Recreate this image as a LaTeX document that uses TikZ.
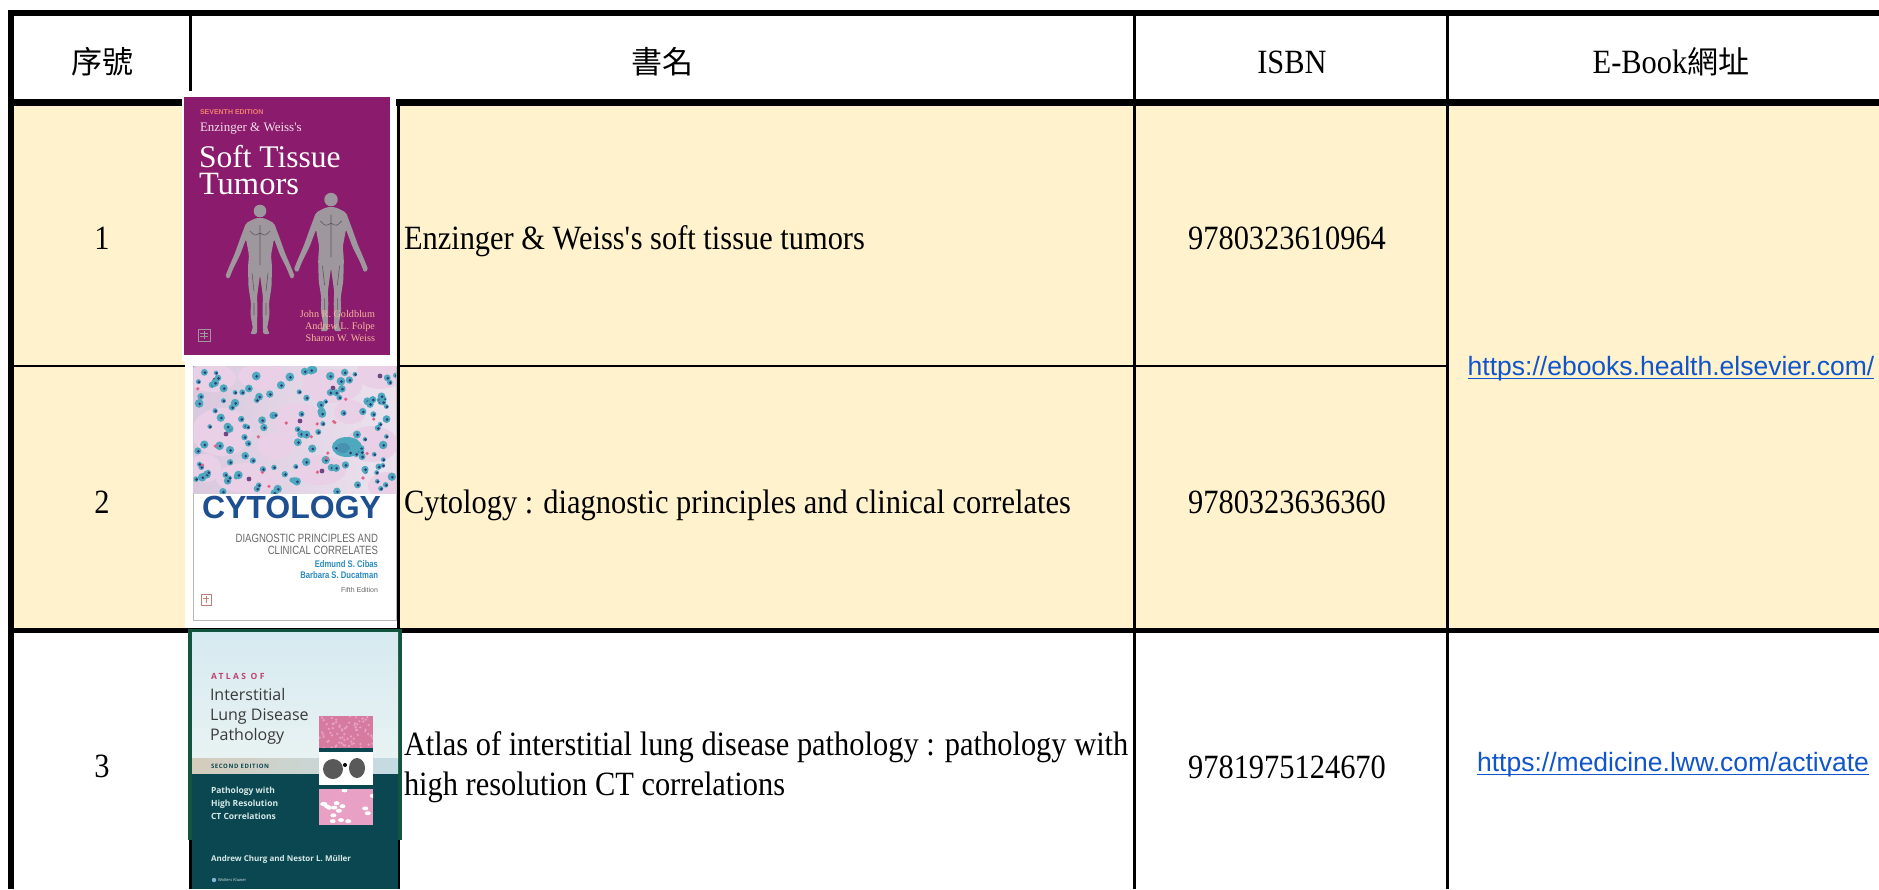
\documentclass[tikz,border=0pt]{standalone}
\usepackage{fontspec}
\setmainfont{Liberation Serif}[FakeStretch=0.895]
\newfontfamily\cjk{Noto Sans CJK TC}
\newfontfamily\coverserif{Liberation Serif}
\newfontfamily\coversans{Liberation Sans}
\newfontfamily\narrowsans{Liberation Sans}[FakeStretch=0.8]
\newfontfamily\opensans{Open Sans}
\newfontfamily\urlsans{Liberation Sans}
\newcommand\mytbfont{\fontsize{34}{40}\selectfont}
\newcommand\mycjkfont{\fontsize{31}{36}\selectfont\cjk}
\definecolor{rowyellow}{RGB}{255,242,204}
\definecolor{linkblue}{RGB}{17,85,204}
\definecolor{stpurple}{RGB}{139,27,108}
\definecolor{salmon}{RGB}{240,128,110}
\definecolor{peach}{RGB}{244,180,156}
\definecolor{pinkwhite}{RGB}{245,222,234}
\definecolor{figgray}{RGB}{158,152,158}
\definecolor{figdark}{RGB}{95,88,95}
\definecolor{cytoblue}{RGB}{29,79,145}
\definecolor{cytoteal}{RGB}{43,139,189}
\definecolor{cytogray}{RGB}{105,105,105}
\definecolor{cellbg}{RGB}{218,200,222}
\definecolor{cellbg2}{RGB}{236,226,238}
\definecolor{palecell}{RGB}{234,208,230}
\definecolor{cellteal}{RGB}{78,168,190}
\definecolor{nucleus}{RGB}{45,60,120}
\definecolor{purplenuc}{RGB}{110,70,130}
\definecolor{cellpink}{RGB}{225,100,135}
\definecolor{atlaspink}{RGB}{194,65,110}
\definecolor{atlasteal}{RGB}{11,71,80}
\definecolor{atlasgreen}{RGB}{18,84,62}
\definecolor{atlastop}{RGB}{214,234,241}
\definecolor{atlaslight}{RGB}{232,242,242}
\definecolor{stripbeige}{RGB}{212,204,188}
\definecolor{stripblue}{RGB}{196,220,228}
\definecolor{atlastext}{RGB}{58,58,58}
\definecolor{atlaswhite}{RGB}{214,232,232}
\definecolor{tissuepink}{RGB}{214,122,160}
\definecolor{tissuelight}{RGB}{232,160,196}
\tikzset{
  anatfig/.pic={
    \fill[figgray, rounded corners=2] (4,15) -- (14,20) -- (20,36) -- (25,50) -- (31,64) -- (35,74) -- (31,76) -- (27,66) -- (20,52) -- (14,36) -- (11,52) -- (12,64) -- (11.5,84) -- (9,100) -- (9.5,112) -- (7,126) -- (10,131) -- (3,131) -- (3,124) -- (2.5,104) -- (3,94) -- (0,72) -- (-3,94) -- (-2.5,104) -- (-3,124) -- (-3,131) -- (-10,131) -- (-7,126) -- (-9.5,112) -- (-9,100) -- (-11.5,84) -- (-12,64) -- (-11,52) -- (-14,36) -- (-20,52) -- (-27,66) -- (-31,76) -- (-35,74) -- (-31,64) -- (-25,50) -- (-20,36) -- (-14,20) -- (-4,15) -- cycle;
    \fill[figgray] (0,8) circle (6.3);
    \draw[figdark, line width=0.6] (0,22) -- (0,62) (-10,28) .. controls (-5,33) .. (0,30) .. controls (5,33) .. (10,28) (-6,100) -- (-6,112) (6,100) -- (6,112) (-8,70) -- (-6,88) (8,70) -- (6,88);
  }
}
\begin{document}
\begin{tikzpicture}[x=1pt,y=-1pt,
  txt/.style={inner sep=0pt,outer sep=0pt,font=\mytbfont},
  cjktxt/.style={inner sep=0pt,outer sep=0pt,font=\mycjkfont},
  urltxt/.style={inner sep=0pt,outer sep=0pt,font=\urlsans\fontsize{26.5}{30}\selectfont,text=linkblue},
  ctxt/.style={inner sep=0pt,outer sep=0pt},
  grid/.style={black}]
\useasboundingbox (0,0) rectangle (1879,889);
\clip (0,0) rectangle (1879,889);
\fill[white] (0,0) rectangle (1879,889);
\fill[rowyellow] (14,106) rectangle (1879,628);
% grid lines
\draw[grid, line width=6] (8,13) -- (1879,13);
\draw[grid, line width=6] (11,10) -- (11,889);
\draw[grid, line width=7] (8,102.5) -- (1879,102.5);
\draw[grid, line width=3.5] (190.5,10) -- (190.5,889);
\draw[grid, line width=3] (398,102) -- (398,889);
\draw[grid, line width=3] (1134.5,10) -- (1134.5,889);
\draw[grid, line width=3.5] (1447.5,10) -- (1447.5,889);
\draw[grid, line width=2.5] (11,366) -- (1447,366);
\draw[grid, line width=5] (8,630.5) -- (1879,630.5);
% header
\node[cjktxt, anchor=base] (hno) at (102,73) {序號};
\node[cjktxt, anchor=base] (htitle) at (662,73) {書名};
\node[txt, anchor=base] (hisbn) at (1292,73) {ISBN};
\node[txt, anchor=base] (hurl) at (1671,73) {E-Book{\mycjkfont 網址}};
% row numbers
\node[txt, anchor=base] (n1) at (102,249) {1};
\node[txt, anchor=base] (n2) at (102,513) {2};
\node[txt, anchor=base] (n3) at (102,777) {3};
% titles
\node[txt, anchor=base west] (t1) at (404,249) {Enzinger \& Weiss\textquotesingle s soft tissue tumors};
\node[txt, anchor=base west] (t2) at (404,513) {Cytology : diagnostic principles and clinical correlates};
\node[txt, anchor=base west] (t3a) at (404,755) {Atlas of interstitial lung disease pathology : pathology with};
\node[txt, anchor=base west] (t3b) at (404,795) {high resolution CT correlations};
% ISBN
\node[txt, anchor=base] (i1) at (1287,249) {9780323610964};
\node[txt, anchor=base] (i2) at (1287,513) {9780323636360};
\node[txt, anchor=base] (i3) at (1287,778) {9781975124670};
% URLs
\node[urltxt, anchor=base] (u1) at (1671,375) {https://ebooks.health.elsevier.com/};
\draw[linkblue, line width=1.8] ([yshift=-3.5pt]u1.base west) -- ([yshift=-3.5pt]u1.base east);
\node[urltxt, anchor=base] (u2) at (1673,771) {https://medicine.lww.com/activate};
\draw[linkblue, line width=1.8] ([yshift=-3.5pt]u2.base west) -- ([yshift=-3.5pt]u2.base east);

% ===== cover 1 =====
\fill[white] (182,91) rectangle (396,361);
\fill[stpurple] (184,96.5) rectangle (390,355);
\pic at (260,203) {anatfig};
\pic[scale=1.07] at (331,191) {anatfig};
\node[ctxt, anchor=base west, font=\coversans\bfseries\fontsize{7}{8}\selectfont, text=salmon] (c1ed) at (200,114) {SEVENTH EDITION};
\node[ctxt, anchor=base west, text depth=1pt, font=\coverserif\fontsize{13}{14}\selectfont, text=pinkwhite] (c1au) at (200,131) {Enzinger \& Weiss's};
\node[ctxt, anchor=base west, text height=22pt, font=\coverserif\fontsize{31.5}{33}\selectfont, text=white] (c1t1) at (199,167) {Soft Tissue};
\node[ctxt, anchor=base west, text height=22pt, font=\coverserif\fontsize{32.5}{34}\selectfont, text=white] (c1t2) at (199,194) {Tumors};
\node[ctxt, anchor=base east, font=\coverserif\fontsize{10.2}{11}\selectfont, text=peach] (c1a1) at (375,317) {John R. Goldblum};
\node[ctxt, anchor=base east, font=\coverserif\fontsize{10.2}{11}\selectfont, text=peach] (c1a2) at (375,329) {Andrew L. Folpe};
\node[ctxt, anchor=base east, font=\coverserif\fontsize{10.2}{11}\selectfont, text=peach] (c1a3) at (375,341) {Sharon W. Weiss};
\draw[figgray, line width=0.8] (198,329) rectangle (210,341) (204,331) -- (204,339) (200,333) -- (208,333) (200,336) -- (208,336);

% ===== cover 2 =====
\fill[white] (185,361) rectangle (397,628);
\draw[gray!55, line width=0.8] (193,366) rectangle (396.5,620);
\begin{scope}
  \clip (193.5,366.5) rectangle (396,493);
  \fill[left color=cellbg, right color=cellbg2] (193,366) rectangle (396,493);
  \foreach \ex/\ey/\erx/\ery in {212/378/24/14, 262/376/24/13, 332/386/30/17, 380/374/24/15, 222/432/30/24, 298/420/24/17, 372/444/26/18, 248/478/32/15, 320/470/26/15, 388/486/20/14, 276/446/18/13, 205/468/16/14, 350/412/16/12}
    \fill[palecell] (\ex,\ey) ellipse [x radius=\erx, y radius=\ery];
  \foreach \ex/\ey in {215/380, 333/388, 226/434, 300/421, 249/479, 322/471, 380/376}
    \fill[purplenuc] (\ex,\ey) circle (2.4);
  \fill[cellteal] (347,447) ellipse [x radius=15, y radius=10];
  \fill[cellteal!80!nucleus] (343,448) ellipse [x radius=7, y radius=5];
  \pgfmathsetseed{17}
  \foreach \k in {1,...,140}{
    \pgfmathsetmacro\qx{194+202*rnd}
    \pgfmathsetmacro\qy{367+126*rnd}
    \pgfmathsetmacro\qr{2.2+2.2*rnd}
    \fill[cellteal] (\qx,\qy) circle (\qr);
    \fill[nucleus] (\qx+0.6,\qy+0.4) circle (1.5);
  }
  \foreach \k in {1,...,18}{
    \pgfmathsetmacro\qx{194+202*rnd}
    \pgfmathsetmacro\qy{367+126*rnd}
    \fill[cellpink] (\qx,\qy) circle (1.8);
  }
\end{scope}
\node[ctxt, anchor=base west, font=\coversans\bfseries\fontsize{32}{34}\selectfont, text=cytoblue] (c2t) at (202,518) {CYTOLOGY};
\node[ctxt, anchor=base east, font=\narrowsans\fontsize{12}{13}\selectfont, text=cytogray] (c2s1) at (378,542) {DIAGNOSTIC PRINCIPLES AND};
\node[ctxt, anchor=base east, font=\narrowsans\fontsize{12}{13}\selectfont, text=cytogray] (c2s2) at (378,554) {CLINICAL CORRELATES};
\node[ctxt, anchor=base east, font=\narrowsans\bfseries\fontsize{9.6}{10}\selectfont, text=cytoteal] (c2a1) at (378,567) {Edmund S. Cibas};
\node[ctxt, anchor=base east, font=\narrowsans\bfseries\fontsize{9.6}{10}\selectfont, text=cytoteal] (c2a2) at (378,578) {Barbara S. Ducatman};
\node[ctxt, anchor=base east, font=\coversans\fontsize{7}{8}\selectfont, text=cytogray] (c2ed) at (378,592) {Fifth Edition};
\draw[salmon!60!gray, line width=0.7] (201,594) rectangle (211,605) (206,596) -- (206,603) (203,598) -- (209,598);

% ===== cover 3 =====
\fill[atlasgreen] (188,629) rectangle (402,840);
\fill[atlasteal] (192,773) rectangle (398,889);
\fill[top color=atlastop, bottom color=atlaslight] (192,632) rectangle (398,758);
\fill[left color=stripbeige, right color=stripblue] (192,758) rectangle (398,773);
\begin{scope}
  \clip (319,716) rectangle (373,748);
  \fill[tissuepink] (319,716) rectangle (373,748);
  \pgfmathsetseed{5}
  \foreach \k in {1,...,70}{
    \pgfmathsetmacro\qx{319+54*rnd}
    \pgfmathsetmacro\qy{716+32*rnd}
    \fill[tissuelight] (\qx,\qy) circle (1.3);
  }
\end{scope}
\fill[atlasteal] (319,748) rectangle (373,752);
\fill[white] (319,752) rectangle (373,785);
\fill[gray!70!black] (333,769) ellipse [x radius=10, y radius=10];
\fill[gray!70!black] (357,768) ellipse [x radius=8, y radius=10];
\fill[black] (345,765) circle (2);
\begin{scope}
  \clip (319,789) rectangle (373,825);
  \fill[tissuelight] (319,789) rectangle (373,825);
  \pgfmathsetseed{9}
  \foreach \k in {1,...,16}{
    \pgfmathsetmacro\qx{319+54*rnd}
    \pgfmathsetmacro\qy{789+36*rnd}
    \fill[white] (\qx,\qy) ellipse [x radius=3, y radius=2];
  }
\end{scope}
\node[ctxt, anchor=base west, font=\opensans\bfseries\fontsize{8.5}{9}\selectfont\addfontfeature{LetterSpace=28}, text=atlaspink] (c3a) at (211,679) {ATLAS OF};
\node[ctxt, anchor=base west, font=\opensans\fontsize{16}{18}\selectfont, text=atlastext] (c3b) at (210,700) {Interstitial};
\node[ctxt, anchor=base west, font=\opensans\fontsize{16}{18}\selectfont, text=atlastext] (c3c) at (210,720) {Lung Disease};
\node[ctxt, anchor=base west, font=\opensans\fontsize{16}{18}\selectfont, text=atlastext] (c3d) at (210,740) {Pathology};
\node[ctxt, anchor=base west, font=\opensans\bfseries\fontsize{6}{7}\selectfont\addfontfeature{LetterSpace=10}, text=atlasteal] (c3e) at (211,768) {SECOND EDITION};
\node[ctxt, anchor=base west, font=\opensans\bfseries\fontsize{8.5}{9}\selectfont, text=atlaswhite] (c3f) at (211,793) {Pathology with};
\node[ctxt, anchor=base west, font=\opensans\bfseries\fontsize{8.5}{9}\selectfont, text=atlaswhite] (c3g) at (211,806) {High Resolution};
\node[ctxt, anchor=base west, font=\opensans\bfseries\fontsize{8.5}{9}\selectfont, text=atlaswhite] (c3h) at (211,819) {CT Correlations};
\node[ctxt, anchor=base west, font=\opensans\bfseries\fontsize{8}{9}\selectfont, text=atlaswhite] (c3i) at (211,861) {Andrew Churg and Nestor L. Müller};
\fill[cytoteal!60!white] (214,880) circle (2.2);
\node[ctxt, anchor=base west, font=\opensans\fontsize{4}{5}\selectfont, text=atlaswhite] (c3j) at (218,881.5) {Wolters Kluwer};
\end{tikzpicture}
\end{document}
